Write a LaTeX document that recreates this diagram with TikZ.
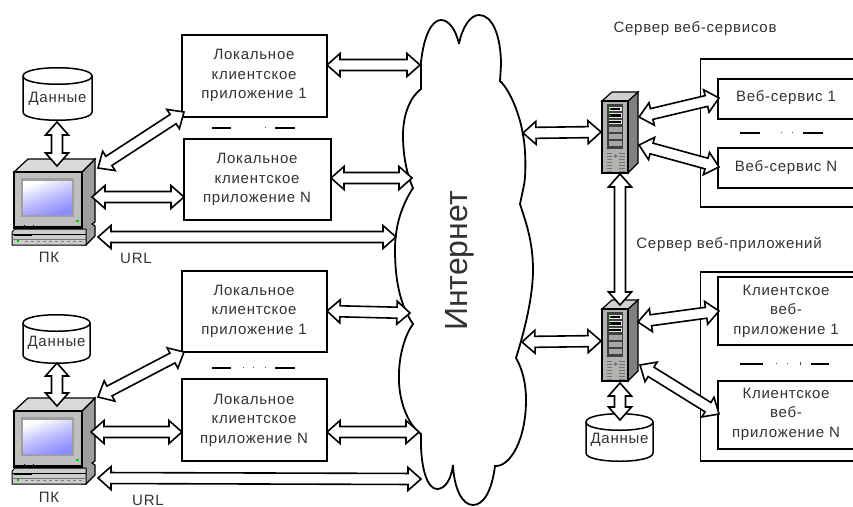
\documentclass[tikz,border=0pt]{standalone}
\usepackage{fontspec}
\setmainfont{Liberation Sans}[LetterSpace=5]
\newfontfamily\bigfont{Liberation Sans}
\usetikzlibrary{calc}
\definecolor{ink}{gray}{0.2}
\tikzset{
  conn/.style={draw=black,fill=white,line width=1.6pt,line join=miter,miter limit=3},
  box/.style={draw=black,line width=1.5pt,fill=white,inner sep=0pt,outer sep=0pt},
  frame/.style={draw=black,line width=1.5pt,fill=white,inner sep=0pt,outer sep=0pt},
  txt/.style={text=ink,align=center,inner sep=0pt,font=\fontsize{15}{19.5}\selectfont},
  cloudline/.style={draw=black,fill=white,line width=1.8pt,line join=miter,miter limit=4},
  dots/.style={line width=2.4pt,draw=black},
  dot/.style={line width=1pt,draw=black!70},
  cyl/.style={draw=black,fill=white,line width=1.5pt},
}
% hollow two-headed arrow between two named points
\newcommand{\dbl}[2]{%
  \draw[conn] (#1) -- ($(#1)!17.4pt!41.5:(#2)$) -- ($(#1)!14.1pt!23:(#2)$)
    -- ($(#2)!14.1pt!-23:(#1)$) -- ($(#2)!17.4pt!-41.5:(#1)$) -- (#2)
    -- ($(#2)!17.4pt!41.5:(#1)$) -- ($(#2)!14.1pt!23:(#1)$)
    -- ($(#1)!14.1pt!-23:(#2)$) -- ($(#1)!17.4pt!-41.5:(#2)$) -- cycle;}
% database drum: name, left x, right x, top y, bottom y, centre of text y
\newcommand{\drum}[6]{%
  \draw[cyl] (#2,#4+8) .. controls (#2,#4-3) and (#3,#4-3) .. (#3,#4+8)
     -- (#3,#5-8) .. controls (#3,#5+3) and (#2,#5+3) .. (#2,#5-8) -- cycle;
  \draw[cyl] (#2,#4+8) .. controls (#2,#4+19) and (#3,#4+19) .. (#3,#4+8);
  \node[txt] (#1) at ({(#2+#3)/2},#6) {Данные};}
% desktop computer, drawn at its place and shifted by #1 in y
\newcommand{\desktop}[1]{%
\begin{scope}[yshift=-#1pt]
  \draw[black,line width=1.2pt,fill=black!38] (82,172) -- (95,159) -- (95,222) -- (92,224) -- (95,226) -- (95,236) -- (86,245) -- (82,245) -- cycle;
  \draw[black,line width=1.2pt,fill=black!15] (14,172) -- (28,159) -- (95,159) -- (82,172) -- cycle;
  \draw[black,line width=1.2pt,fill=black!25] (14,172) rectangle (82,228);
  \fill[black!38] (21,178) rectangle (74,217);
  \shade[left color=white,right color=blue!45!white,middle color=blue!25!white,shading angle=20] (23,181) rectangle (72,214);
  \fill[green!80!black] (76,220) rectangle (79,222);
  \draw[black,line width=1pt,fill=black!20] (12,232) -- (15,229) -- (86,229) -- (86,245) -- (12,245) -- cycle;
  \draw[black,line width=.8pt] (24,225) -- (24,229) (33,225) -- (33,229) (14,226) -- (82,226);
  \draw[black,line width=1pt] (12,234) -- (86,234);
  \draw[black,line width=1pt] (14,235) -- (32,235);
  \fill[black!55] (12,239) rectangle (86,240);
  \fill[green!70!black] (17,240) rectangle (19,241.5);
  \draw[black!50,line width=.6pt,dashed] (25,241) -- (82,241);
\end{scope}}
% tower server, shifted by #1 in y
\newcommand{\tower}[1]{%
\begin{scope}[yshift=-#1pt]
  \draw[black,line width=1.2pt,fill=black!50] (628,101) -- (638,92) -- (638,163) -- (628,173) -- cycle;
  \draw[black,line width=1.2pt,fill=black!18] (602,101) -- (612,92) -- (638,92) -- (628,101) -- cycle;
  \draw[black,line width=1.2pt,fill=black!30] (602,101) rectangle (628,173);
  \fill[black!75] (607,104) rectangle (623,149);
  \fill[black!10] (608.5,107) rectangle (621.5,111);
  \fill[black] (610,108) rectangle (620,110);
  \fill[green!70!black] (609,107.5) rectangle (611,109);
  \fill[black!10] (608.5,113) rectangle (621.5,118);
  \fill[black] (609,114) rectangle (621,117);
  \fill[green!70!black] (609,114.5) rectangle (611,116);
  \fill[black!10] (608.5,120) rectangle (621.5,124);
  \fill[black] (609,121) rectangle (621,123);
  \fill[black!35] (608.5,127) rectangle (621.5,132);
  \fill[black!35] (608.5,134) rectangle (621.5,139);
  \fill[black!35] (608.5,141) rectangle (621.5,146);
  \foreach \vy in {153,156,...,171}{
    \draw[black!55,line width=.6pt] (607,\vy) -- (612,\vy) (619,\vy) -- (625,\vy);}
  \fill[black!55] (615.5,156) circle (1.8pt);
  \fill[yellow!70!black] (615.5,161) circle (1pt);
\end{scope}}
\begin{document}
\begin{tikzpicture}[x=1pt,y=-1pt]
\useasboundingbox (0,0) rectangle (853,506);
\fill[white] (0,0) rectangle (853,506);
\clip (0,0) rectangle (853,506);

% cloud
\draw[cloudline] (421,89) -- (421,62) .. controls (424,35) and (432,20) .. (441,20)
  .. controls (449,20) and (456,30) .. (459,44)
  .. controls (462,28) and (470,15) .. (479,15)
  .. controls (492,15) and (501,35) .. (501,65) -- (500,81)
  .. controls (510,90) and (520,115) .. (523,135)
  .. controls (526,150) and (526,175) .. (524,185) -- (520,204)
  .. controls (525,220) and (533,240) .. (533,270)
  .. controls (533,290) and (528,320) .. (516,358)
  .. controls (523,370) and (526,385) .. (526,400)
  .. controls (526,440) and (510,467) .. (495,466)
  .. controls (492,490) and (484,505) .. (473,505)
  .. controls (462,505) and (454,488) .. (453,465)
  .. controls (451,480) and (445,489) .. (437,489)
  .. controls (428,489) and (420,470) .. (421,434)
  .. controls (408,425) and (398,400) .. (399,375)
  .. controls (399,355) and (405,335) .. (413,324)
  .. controls (400,305) and (395,280) .. (395,250)
  .. controls (395,225) and (402,205) .. (413,188)
  .. controls (405,170) and (403,150) .. (403,135)
  .. controls (403,115) and (410,97) .. (421,89) -- cycle;
\node[rotate=90,text=ink,inner sep=0pt,font=\bigfont\fontsize{32}{32}\selectfont] (net) at (460,261) {Интернет};

% local application boxes
\node[box,minimum width=145pt,minimum height=82pt] (b1) at (254.5,76) {};
\node[txt] (b1t) at (254,75.5) {Локальное\\клиентское\\приложение 1};
\node[box,minimum width=147pt,minimum height=81pt] (b2) at (257.5,179.5) {};
\node[txt] (b2t) at (257,179.5) {Локальное\\клиентское\\приложение N};
\node[box,minimum width=145pt,minimum height=81pt] (b3) at (254.5,311.5) {};
\node[txt] (b3t) at (254,311) {Локальное\\клиентское\\приложение 1};
\node[box,minimum width=145pt,minimum height=82pt] (b4) at (254.5,420) {};
\node[txt] (b4t) at (254,420) {Локальное\\клиентское\\приложение N};

% dash-dot separators
\draw[dots] (212,128) -- (231,128) (275,128) -- (295,128);
\draw[dot] (265,127) -- (265,128);
\draw[dots] (212,368) -- (231,368) (275,368) -- (295,368);
\draw[dot] (243,367) -- (243,368) (253,367) -- (253,368) (265,367) -- (265,368);

% right frames
\node[frame,minimum width=165pt,minimum height=148pt] (f1) at (783,133) {};
\node[frame,minimum width=165pt,minimum height=189pt] (f2) at (783,366.5) {};
\node[box,minimum width=145pt,minimum height=40pt] (w1) at (790.5,99) {};
\node[txt] (w1t) at (786,98) {Веб-сервис 1};
\node[box,minimum width=145pt,minimum height=40pt] (w2) at (790.5,168) {};
\node[txt] (w2t) at (786,168) {Веб-сервис N};
\node[box,minimum width=145pt,minimum height=68pt] (c1) at (790.5,311) {};
\node[txt] (c1t) at (786,311) {Клиентское\\веб-\\приложение 1};
\node[box,minimum width=145pt,minimum height=68pt] (c2) at (790.5,415) {};
\node[txt] (c2t) at (786,414) {Клиентское\\веб-\\приложение N};
\draw[dots] (740,133) -- (760,133) (803,133) -- (823,133);
\draw[dot] (781,132) -- (781,133) (792,132) -- (792,133);
\draw[dots] (740,364) -- (763,364) (811,364) -- (829,364);
\draw[dot] (776,363) -- (776,364) (787,363) -- (787,364) (800,362) -- (800,365);

% computers, servers and data stores
\desktop{0}
\desktop{239}
\tower{0}
\tower{208}
\drum{d1}{23}{92}{68}{120}{99}
\drum{d2}{23}{90}{315}{363}{343}
\drum{d3}{586}{653}{414}{461}{440}

% labels
\node[txt] (pk1) at (49,257) {ПК};
\node[txt] (url1) at (136,258) {URL};
\node[txt] (pk2) at (49,497) {ПК};
\node[txt] (url2) at (148,500) {URL};
\node[txt] (s1) at (695,29) {Сервер веб-сервисов};
\node[txt] (s2) at (729,244) {Сервер веб-приложений};

% connector ends
\coordinate (d1s) at (57,122); \coordinate (p1n) at (57,166);
\coordinate (p1a) at (98,168); \coordinate (b1w) at (184,112);
\coordinate (p1b) at (92,197); \coordinate (b2w) at (184,197);
\coordinate (p1c) at (98,237); \coordinate (n1c) at (396,237);
\coordinate (b1e) at (327,65); \coordinate (n1a) at (420,65);
\coordinate (b2e) at (331,178); \coordinate (n1b) at (412,178);
\coordinate (d2s) at (57,363); \coordinate (p2n) at (57,406);
\coordinate (p2a) at (98,397); \coordinate (b3w) at (184,352);
\coordinate (p2b) at (91,432); \coordinate (b4w) at (182,432);
\coordinate (p2c) at (98,478); \coordinate (n2c) at (421,479);
\coordinate (b3e) at (327,311); \coordinate (n2a) at (410,313);
\coordinate (b4e) at (327,432); \coordinate (n2b) at (419,432);
\coordinate (n3) at (523,133); \coordinate (s1w) at (601,132);
\coordinate (n4) at (522,342); \coordinate (s2w) at (601,341);
\coordinate (s1a) at (639,117); \coordinate (w1w) at (719,98);
\coordinate (s1b) at (639,145); \coordinate (w2w) at (719,167);
\coordinate (s1s) at (620,174); \coordinate (s2n) at (620,305);
\coordinate (s2a) at (638,322); \coordinate (c1w) at (719,311);
\coordinate (s2b) at (640,365); \coordinate (c2w) at (719,414);
\coordinate (s2s) at (620,383); \coordinate (d3n) at (620,420);

\dbl{d1s}{p1n}\dbl{p1a}{b1w}\dbl{p1b}{b2w}\dbl{p1c}{n1c}
\dbl{b1e}{n1a}\dbl{b2e}{n1b}
\dbl{d2s}{p2n}\dbl{p2a}{b3w}\dbl{p2b}{b4w}\dbl{p2c}{n2c}
\dbl{b3e}{n2a}\dbl{b4e}{n2b}
\dbl{n3}{s1w}\dbl{n4}{s2w}
\dbl{s1a}{w1w}\dbl{s1b}{w2w}\dbl{s1s}{s2n}
\dbl{s2a}{c1w}\dbl{s2b}{c2w}\dbl{s2s}{d3n}
\end{tikzpicture}
\end{document}
